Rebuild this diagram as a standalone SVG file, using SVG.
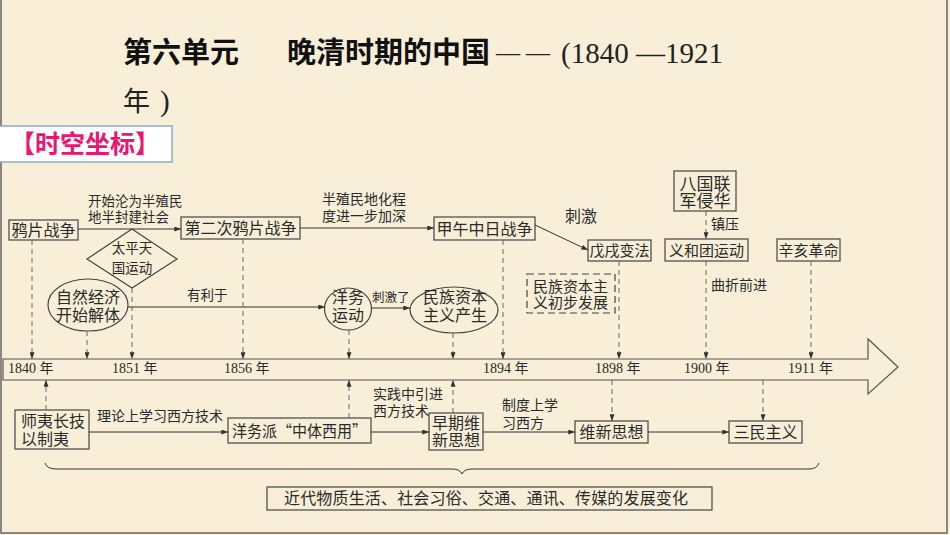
<svg xmlns="http://www.w3.org/2000/svg" width="950" height="535" viewBox="0 0 950 535">
<defs>
<marker id="ah" viewBox="0 0 8 6" refX="8" refY="3" markerWidth="7" markerHeight="5" markerUnits="userSpaceOnUse" orient="auto">
<path d="M0,0 L8,3 L0,6 z" fill="#333"/>
</marker>
<style>
.cj{font-family:"Noto Sans CJK SC","Noto Sans CJK JP",sans-serif;fill:#2a2a2a}
.num{font-family:"Liberation Serif",serif}
.box{fill:none;stroke:#444;stroke-width:1.2}
.ln{fill:none;stroke:#333;stroke-width:1}
.dl{fill:none;stroke:#666;stroke-width:1;stroke-dasharray:5,4}
.mid{text-anchor:middle}
.f13{font-size:13.5px}
.f14{font-size:14px}
.f15{font-size:15px}
.f16{font-size:16px}
.f17{font-size:17px}
</style>
</defs>
<rect x="0" y="0" width="950" height="535" fill="#f9efd8"/>
<path d="M1,0 V533 H947 V0" fill="none" stroke="#666" stroke-width="1.5"/>

<g id="title">
<text x="123" y="63" class="cj" style="font-size:29px;font-weight:bold;fill:#111">第六单元</text>
<text x="287" y="63" class="cj" style="font-size:29px;font-weight:bold;fill:#111">晚清时期的中国</text>
<text x="496" y="60" class="num" style="font-size:24px;fill:#222">— —</text>
<text x="561" y="63" class="num" style="font-size:29px;fill:#222">(1840 —1921</text>
<text x="123" y="111" class="cj" style="font-size:27px;fill:#222">年</text>
<text x="160" y="111" class="num" style="font-size:29px;fill:#222">)</text>
</g>

<g id="tag">
<rect x="-1" y="126" width="173" height="36" fill="#ffffff" stroke="#8fa9d0" stroke-width="1.5"/>
<text x="10" y="153" class="cj" style="font-size:25px;font-weight:bold;fill:#e8176f">【时空坐标】</text>
</g>

<g id="timeline">
<polygon points="3,359 868,359 868,339 898,367 868,394 868,380 3,380" fill="none" stroke="#555" stroke-width="1.2"/>
<text x="8" y="373" class="cj f14"><tspan class="num">1840 </tspan>年</text>
<text x="112" y="373" class="cj f14"><tspan class="num">1851 </tspan>年</text>
<text x="224" y="373" class="cj f14"><tspan class="num">1856 </tspan>年</text>
<text x="483" y="373" class="cj f14"><tspan class="num">1894 </tspan>年</text>
<text x="595" y="373" class="cj f14"><tspan class="num">1898 </tspan>年</text>
<text x="684" y="373" class="cj f14"><tspan class="num">1900 </tspan>年</text>
<text x="788" y="373" class="cj f14"><tspan class="num">1911 </tspan>年</text>
</g>

<g id="n-yapian">
<rect x="9" y="220" width="69" height="20" class="box"/>
<text x="43.5" y="236" class="cj f16 mid">鸦片战争</text>
</g>
<g id="n-dierci">
<rect x="181" y="217" width="119" height="22" class="box"/>
<text x="240.5" y="234" class="cj f16 mid">第二次鸦片战争</text>
</g>
<g id="n-jiawu">
<rect x="434" y="217" width="101" height="23" class="box"/>
<text x="484.5" y="235" class="cj f16 mid">甲午中日战争</text>
</g>
<g id="n-wuxu">
<rect x="588" y="240" width="63" height="21" class="box"/>
<text x="619.5" y="256" class="cj f15 mid">戊戌变法</text>
</g>
<g id="n-baguo">
<rect x="674" y="171" width="62" height="40" class="box"/>
<text class="cj f17 mid"><tspan x="705" y="190">八国联</tspan><tspan x="705" y="207">军侵华</tspan></text>
</g>
<g id="n-yihetuan">
<rect x="665" y="239" width="83" height="22" class="box"/>
<text x="706.5" y="256" class="cj f15 mid">义和团运动</text>
</g>
<g id="n-xinhai">
<rect x="777" y="239" width="63" height="22" class="box"/>
<text x="808.5" y="256" class="cj f15 mid">辛亥革命</text>
</g>
<g id="n-taiping">
<polygon points="132,229 177,259 132,288 87,259" class="box"/>
<text class="cj f13 mid"><tspan x="132" y="253">太平天</tspan><tspan x="132" y="273">国运动</tspan></text>
</g>
<g id="n-ziran">
<ellipse cx="88" cy="305" rx="40" ry="26" class="box"/>
<text class="cj f16 mid"><tspan x="88" y="303">自然经济</tspan><tspan x="88" y="321">开始解体</tspan></text>
</g>
<g id="n-yangwu">
<ellipse cx="348" cy="309" rx="23.5" ry="21" class="box"/>
<text class="cj f16 mid"><tspan x="348" y="303">洋务</tspan><tspan x="348" y="321">运动</tspan></text>
</g>
<g id="n-minzu">
<ellipse cx="454" cy="310" rx="44" ry="23" class="box"/>
<text class="cj f16 mid"><tspan x="455" y="303">民族资本</tspan><tspan x="455" y="321">主义产生</tspan></text>
</g>
<g id="n-chubu">
<rect x="527" y="274" width="88" height="39" fill="none" stroke="#444" stroke-width="1.2" stroke-dasharray="7,4"/>
<text class="cj f15"><tspan x="533" y="292">民族资本主</tspan><tspan x="533" y="308">义初步发展</tspan></text>
</g>
<g id="n-shiyi">
<rect x="15" y="410" width="74" height="39" class="box"/>
<text class="cj f16"><tspan x="21" y="427">师夷长技</tspan><tspan x="21" y="445">以制夷</tspan></text>
</g>
<g id="n-zhongti">
<rect x="228" y="418" width="143" height="25" class="box"/>
<text x="232" y="437" class="cj f16" textLength="135" lengthAdjust="spacingAndGlyphs">洋务派“中体西用”</text>
</g>
<g id="n-zaoqi">
<rect x="429" y="413" width="54" height="37" class="box"/>
<text class="cj f16 mid"><tspan x="456" y="429">早期维</tspan><tspan x="456" y="446">新思想</tspan></text>
</g>
<g id="n-weixin">
<rect x="575" y="421" width="73" height="22" class="box"/>
<text x="611.5" y="438" class="cj f16 mid">维新思想</text>
</g>
<g id="n-sanmin">
<rect x="729" y="421" width="73" height="22" class="box"/>
<text x="765.5" y="438" class="cj f16 mid">三民主义</text>
</g>
<g id="n-jindai">
<rect x="267" y="487" width="445" height="23" class="box"/>
<text x="284" y="504" class="cj f16" textLength="404" lengthAdjust="spacing">近代物质生活、社会习俗、交通、通讯、传媒的发展变化</text>
</g>

<g id="connectors">
<line x1="78" y1="229" x2="181" y2="229" class="ln" marker-end="url(#ah)"/>
<line x1="300" y1="228" x2="434" y2="228" class="ln" marker-end="url(#ah)"/>
<line x1="535" y1="225" x2="588" y2="250" class="ln" marker-end="url(#ah)"/>
<line x1="706" y1="211" x2="706" y2="239" class="dl" marker-end="url(#ah)"/>
<line x1="128" y1="307" x2="325" y2="307" class="ln" marker-end="url(#ah)"/>
<line x1="372" y1="308" x2="410" y2="308" class="ln" marker-end="url(#ah)"/>
<line x1="89" y1="432" x2="228" y2="432" class="ln" marker-end="url(#ah)"/>
<line x1="371" y1="432" x2="429" y2="432" class="ln" marker-end="url(#ah)"/>
<line x1="483" y1="432" x2="575" y2="432" class="ln" marker-end="url(#ah)"/>
<line x1="648" y1="432" x2="729" y2="432" class="ln" marker-end="url(#ah)"/>

<line x1="32" y1="240" x2="32" y2="359" class="dl" marker-end="url(#ah)"/>
<line x1="87" y1="331" x2="87" y2="359" class="dl" marker-end="url(#ah)"/>
<line x1="132" y1="288" x2="132" y2="359" class="dl" marker-end="url(#ah)"/>
<line x1="243" y1="239" x2="243" y2="359" class="dl" marker-end="url(#ah)"/>
<line x1="349" y1="330" x2="349" y2="359" class="dl" marker-end="url(#ah)"/>
<line x1="453" y1="333" x2="453" y2="359" class="dl" marker-end="url(#ah)"/>
<line x1="503" y1="240" x2="503" y2="359" class="dl" marker-end="url(#ah)"/>
<line x1="619" y1="261" x2="619" y2="359" class="dl" marker-end="url(#ah)"/>
<line x1="706" y1="261" x2="706" y2="359" class="dl" marker-end="url(#ah)"/>
<line x1="811" y1="261" x2="811" y2="359" class="dl" marker-end="url(#ah)"/>

<line x1="46" y1="410" x2="46" y2="380" class="dl" marker-end="url(#ah)"/>
<line x1="349" y1="418" x2="349" y2="380" class="dl" marker-end="url(#ah)"/>
<line x1="453" y1="413" x2="453" y2="380" class="dl" marker-end="url(#ah)"/>
<line x1="612" y1="380" x2="612" y2="421" class="dl" marker-end="url(#ah)"/>
<line x1="763" y1="380" x2="763" y2="421" class="dl" marker-end="url(#ah)"/>

<path d="M45,463 Q47,469 56,469 L452,469 Q460,469 462,474 Q464,469 472,469 L809,469 Q817,469 819,463" class="ln"/>
</g>

<g id="labels">
<text class="cj f13"><tspan x="88" y="206">开始沦为半殖民</tspan><tspan x="88" y="222">地半封建社会</tspan></text>
<text class="cj f14"><tspan x="322" y="204">半殖民地化程</tspan><tspan x="322" y="221">度进一步加深</tspan></text>
<text x="565" y="222" class="cj f16">刺激</text>
<text x="187" y="300" class="cj f13">有利于</text>
<text x="372" y="302" class="cj" style="font-size:12.5px">刺激了</text>
<text x="711" y="229" class="cj f14">镇压</text>
<text x="711" y="290" class="cj f14">曲折前进</text>
<text x="97" y="421" class="cj f14">理论上学习西方技术</text>
<text class="cj f14"><tspan x="373" y="399">实践中引进</tspan><tspan x="373" y="416">西方技术</tspan></text>
<text class="cj f14"><tspan x="502" y="410">制度上学</tspan><tspan x="502" y="428">习西方</tspan></text>
</g>
</svg>
